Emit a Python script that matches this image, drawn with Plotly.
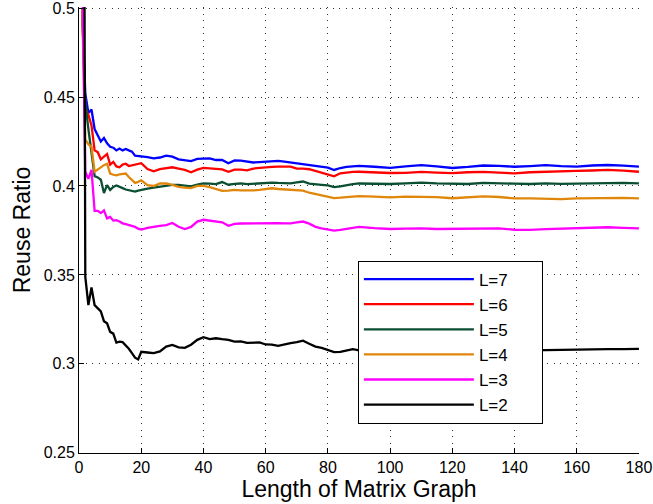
import plotly.graph_objects as go

x_len = [1, 2, 3, 4, 5, 6, 7, 8, 9, 10, 11, 12, 13, 14, 15, 16, 17, 18, 19, 20,
         22, 24, 26, 28, 30, 32, 34, 36, 38, 40, 42, 44, 46, 48, 50, 52, 54, 56, 58, 60,
         62, 64, 66, 68, 70, 72, 74, 76, 78, 80, 82, 84, 86, 88, 90,
         95, 100, 105, 110, 115, 120, 125, 130, 135, 140, 145, 150, 155, 160, 165, 170, 175, 180]

L7 = [0.50, 0.452, 0.441, 0.443, 0.432, 0.428, 0.425, 0.427, 0.424, 0.422, 0.4215, 0.420, 0.421, 0.420, 0.4208, 0.420, 0.4193, 0.417, 0.4168, 0.417,
      0.4162, 0.4155, 0.416, 0.417, 0.4165, 0.415, 0.4145, 0.414, 0.4152, 0.4155, 0.4155, 0.4146, 0.4146, 0.4128, 0.4143, 0.4142, 0.4136, 0.4132, 0.4134, 0.4137,
      0.414, 0.4141, 0.4137, 0.4132, 0.4127, 0.4125, 0.4118, 0.4112, 0.4107, 0.4103, 0.4090, 0.4101, 0.4107, 0.4112, 0.4113,
      0.4108, 0.4102, 0.4110, 0.4117, 0.4110, 0.4101, 0.4107, 0.4115, 0.4113, 0.4108, 0.4112, 0.4117, 0.4111, 0.4109, 0.4115, 0.4118, 0.4114, 0.4109]

L6 = [0.50, 0.444, 0.440, 0.434, 0.420, 0.419, 0.415, 0.4165, 0.418, 0.412, 0.4135, 0.411, 0.4105, 0.412, 0.4125, 0.4112, 0.4115, 0.4118, 0.4125, 0.4128,
      0.4095, 0.4082, 0.4095, 0.4102, 0.4105, 0.4098, 0.409, 0.4077, 0.4092, 0.4102, 0.410, 0.4097, 0.4093, 0.408, 0.4092, 0.4092, 0.4088, 0.4098, 0.4102, 0.4105,
      0.4107, 0.4109, 0.4111, 0.4109, 0.4097, 0.4098, 0.4094, 0.4084, 0.4078, 0.4068, 0.4054, 0.4071, 0.4076, 0.4079, 0.408,
      0.4076, 0.4073, 0.4074, 0.4079, 0.4075, 0.4072, 0.4077, 0.4079, 0.4075, 0.4071, 0.4077, 0.4081, 0.4084, 0.4085, 0.4087, 0.409, 0.4086, 0.408]

L5 = [0.50, 0.447, 0.432, 0.419, 0.4055, 0.4048, 0.4035, 0.396, 0.4005, 0.3978, 0.3995, 0.4003, 0.3997, 0.3988, 0.398, 0.3975, 0.397, 0.3968, 0.3974, 0.3979,
      0.3985, 0.3991, 0.3997, 0.4003, 0.4006, 0.4006, 0.400, 0.3998, 0.4008, 0.4015, 0.4013, 0.401, 0.4022, 0.4007, 0.4012, 0.4014, 0.401, 0.4013, 0.4015, 0.4017,
      0.4019, 0.4017, 0.4015, 0.4015, 0.402, 0.4025, 0.4013, 0.4008, 0.4006, 0.4003, 0.3994, 0.3998, 0.4005, 0.401, 0.4014,
      0.4013, 0.4011, 0.4015, 0.4019, 0.4015, 0.4012, 0.4011, 0.4017, 0.4017, 0.4013, 0.4011, 0.4015, 0.4012, 0.4013, 0.4017, 0.4019, 0.4017, 0.4015]

L4 = [0.50, 0.426, 0.4235, 0.422, 0.408, 0.4093, 0.4103, 0.4117, 0.4125, 0.407, 0.4063, 0.406, 0.4065, 0.4068, 0.407, 0.405, 0.4033, 0.4017, 0.4023, 0.4032,
      0.4005, 0.4000, 0.4014, 0.4015, 0.4006, 0.3995, 0.3991, 0.3988, 0.400, 0.400, 0.3994, 0.3985, 0.3972, 0.3974, 0.3978, 0.3975, 0.3974, 0.3975, 0.3978, 0.3982,
      0.3987, 0.3983, 0.398, 0.3978, 0.3977, 0.3974, 0.3962, 0.3954, 0.3949, 0.3941, 0.3932, 0.3934, 0.3938, 0.3941, 0.3943,
      0.394, 0.3936, 0.394, 0.394, 0.3937, 0.3931, 0.3935, 0.3941, 0.3938, 0.393, 0.393, 0.3928, 0.3926, 0.393, 0.3932, 0.3935, 0.3933, 0.393]

L3 = [0.52, 0.408, 0.404, 0.409, 0.386, 0.386, 0.3848, 0.3863, 0.3818, 0.3826, 0.3805, 0.3807, 0.380, 0.379, 0.3785, 0.378, 0.3776, 0.377, 0.376, 0.3755,
      0.3765, 0.3772, 0.3776, 0.378, 0.3792, 0.3771, 0.3758, 0.377, 0.380, 0.381, 0.3804, 0.3801, 0.3796, 0.3776, 0.3787, 0.3789, 0.379, 0.379, 0.3788, 0.3791,
      0.3794, 0.3791, 0.379, 0.379, 0.3795, 0.380, 0.3788, 0.377, 0.3762, 0.3755, 0.3749, 0.3753, 0.376, 0.3766, 0.377,
      0.3763, 0.3758, 0.376, 0.3762, 0.3758, 0.3759, 0.3761, 0.3762, 0.3762, 0.3754, 0.3753, 0.3757, 0.376, 0.3764, 0.3766, 0.3768, 0.3765, 0.3762]

L2 = [1.0, 0.349, 0.333, 0.343, 0.333, 0.331, 0.3295, 0.324, 0.3228, 0.318, 0.317, 0.312, 0.3125, 0.3122, 0.3105, 0.3085, 0.306, 0.3035, 0.3025, 0.3068,
      0.3064, 0.306, 0.307, 0.3097, 0.3106, 0.3093, 0.309, 0.3108, 0.3135, 0.315, 0.3139, 0.3144, 0.3139, 0.3135, 0.3125, 0.3126, 0.3118, 0.3117, 0.312, 0.3109,
      0.3108, 0.3101, 0.3111, 0.3117, 0.3122, 0.313, 0.3113, 0.3097, 0.309, 0.308, 0.3066, 0.3067, 0.3073, 0.3083, 0.3076,
      0.3074, 0.3073, 0.3075, 0.3074, 0.3073, 0.3072, 0.3074, 0.3073, 0.3072, 0.3074, 0.3076, 0.3078, 0.3079, 0.308, 0.3083, 0.3083, 0.3083, 0.3084]

series_names = ["L=7", "L=6", "L=5", "L=4", "L=3", "L=2"]
series_vals = [L7, L6, L5, L4, L3, L2]
series_colors = ["#0000FF", "#FF0000", "#0B4F33", "#E0860B", "#FF00FF", "#000000"]

x_ticks = [0, 20, 40, 60, 80, 100, 120, 140, 160, 180]
y_ticks = [0.25, 0.3, 0.35, 0.4, 0.45, 0.5]
y_ticktext = ["0.25", "0.3", "0.35", "0.4", "0.45", "0.5"]

FONT = "Liberation Sans, Arial, Helvetica, sans-serif"
PAD = "\u00a0" * 6

fig = go.Figure()
for name, vals, col in zip(series_names, series_vals, series_colors):
    fig.add_trace(go.Scatter(x=x_len, y=vals, mode="lines", name=name + PAD,
                             line=dict(color=col, width=2.3)))

fig.update_layout(
    width=653, height=504,
    margin=dict(l=79, r=14, t=7, b=51),
    paper_bgcolor="white", plot_bgcolor="white",
    font=dict(family=FONT, size=16, color="black"),
    showlegend=True,
    legend=dict(x=0.498, y=0.4315, xanchor="left", yanchor="top",
                bgcolor="white", bordercolor="black", borderwidth=1,
                font=dict(family=FONT, size=17, color="black"),
                itemwidth=110, tracegroupgap=0),
)
fig.update_xaxes(range=[-0.02, 180.02], tickvals=x_ticks, ticks="inside", ticklen=5,
                 tickcolor="black", showline=True, linecolor="black", linewidth=1,
                 showgrid=True, gridcolor="#333333", gridwidth=1, griddash="1px,5.5px",
                 zeroline=False, tickfont=dict(size=16), automargin=False,
                 ticklabeloverflow="allow",
                 title=dict(text="Length of Matrix Graph", font=dict(size=23), standoff=3))
fig.update_yaxes(range=[0.2499, 0.5006], tickvals=y_ticks, ticktext=y_ticktext, ticks="inside", ticklen=5,
                 tickcolor="black", showline=True, linecolor="black", linewidth=1,
                 showgrid=True, gridcolor="#333333", gridwidth=1, griddash="1px,5.5px",
                 zeroline=False, tickfont=dict(size=16), automargin=False,
                 ticklabeloverflow="allow",
                 title=dict(text="Reuse Ratio", font=dict(size=23), standoff=6))

fig.write_html("out.html", config={"displayModeBar": False},
               post_script="document.body.style.margin='0';")
